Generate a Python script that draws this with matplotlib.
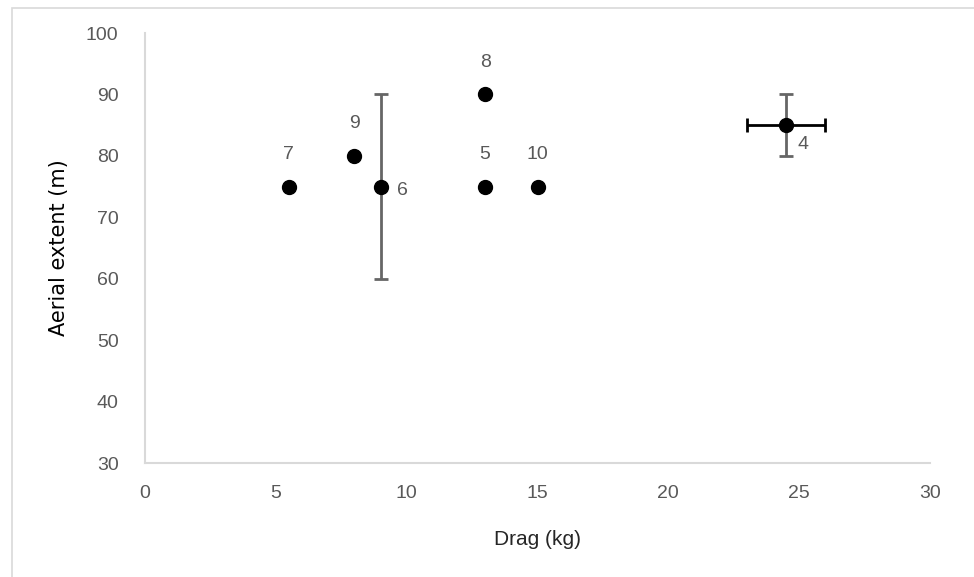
import matplotlib.pyplot as plt
from matplotlib.patches import Rectangle

drag = [5.5, 8, 9, 13, 13, 15, 24.5]
extent = [75, 80, 75, 90, 75, 75, 85]
labels = ["7", "9", "6", "8", "5", "10", "4"]

# error bars (only points 6 and 4 have them)
err_x = [9, 24.5]
err_y = [75, 85]
err_yneg = [15, 5]
err_ypos = [15, 5]
err_xval = [0, 1.5]

label_offsets = {"7": (0, 23), "9": (0, 23), "8": (0, 23), "5": (0, 23),
                 "10": (0, 23), "6": (16, -3), "4": (12, -14)}

fig = plt.figure(figsize=(9.74, 5.77), dpi=100)
fig.patches.append(Rectangle((12 / 974, -0.1), 1.2, (577 - 8) / 577 + 0.1,
                             transform=fig.transFigure, fill=False,
                             edgecolor="#d9d9d9", linewidth=1.2))
ax = fig.add_axes([145 / 974, 114 / 577, 785 / 974, 430 / 577])

grey = "#595959"
ax.errorbar(err_x, err_y, yerr=[err_yneg, err_ypos], fmt="none",
            ecolor="#666666", elinewidth=2, capsize=5, capthick=2, zorder=2)
ax.errorbar([err_x[1]], [err_y[1]], xerr=[[err_xval[1]], [err_xval[1]]], fmt="none",
            ecolor="black", elinewidth=2, capsize=5, capthick=2, zorder=2)
ax.plot(drag, extent, "o", color="black", markersize=10, zorder=3)

for x, y, lab in zip(drag, extent, labels):
    ax.annotate(lab, (x, y), xytext=label_offsets[lab], textcoords="offset points",
                ha="center", va="center", fontsize=14, color=grey,
                family="Liberation Sans")

ax.set_xlim(0, 30)
ax.set_ylim(30, 100)
ax.set_xticks(range(0, 31, 5))
ax.set_yticks(range(30, 101, 10))
ax.tick_params(length=0, labelsize=14, labelcolor=grey)
ax.tick_params(axis="x", pad=16)
ax.tick_params(axis="y", pad=19)
for t in ax.get_xticklabels() + ax.get_yticklabels():
    t.set_family("Liberation Sans")
for s in ["top", "right"]:
    ax.spines[s].set_visible(False)
ax.spines["left"].set_color("#d9d9d9")
ax.spines["bottom"].set_color("#d9d9d9")
ax.spines["left"].set_linewidth(1.5)
ax.spines["bottom"].set_linewidth(1.5)

ax.set_xlabel("Drag (kg)", fontsize=15, color="#262626", family="Liberation Sans", labelpad=20)
ax.set_ylabel("Aerial extent (m)", fontsize=15, color="black", family="DejaVu Sans", labelpad=12)

fig.savefig("out.png", dpi=100)
